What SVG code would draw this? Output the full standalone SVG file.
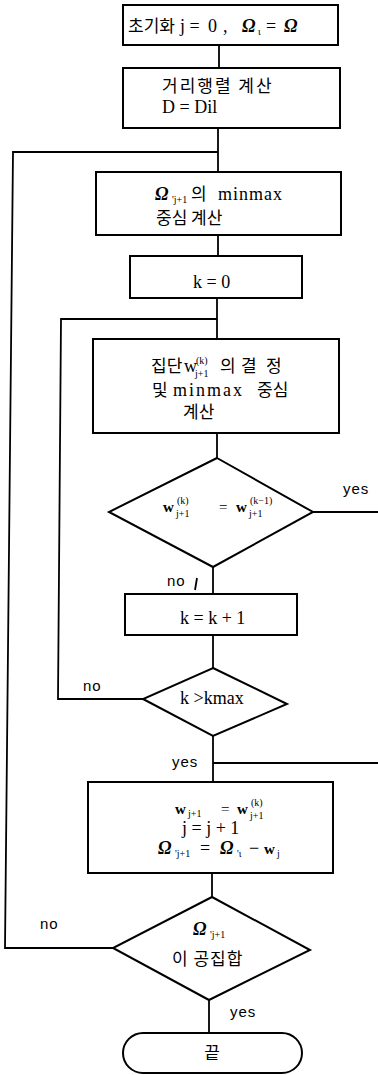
<svg xmlns="http://www.w3.org/2000/svg" width="378" height="1075" viewBox="0 0 378 1075">
  <style>
    .shape { fill: #fff; stroke: #000; stroke-width: 2; }
    .wire { fill: none; stroke: #000; stroke-width: 1.8; }
    text { font-family: "Liberation Serif", "Noto Sans CJK KR", serif; font-size: 18px; fill: #000; }
    .ko { font-family: "Noto Sans CJK KR", sans-serif; font-size: 17px; }
    .lbl { font-family: "Liberation Sans", "Noto Sans CJK KR", sans-serif; font-size: 15px; letter-spacing: 1px; }
    .c { text-anchor: middle; }
    .sub { font-size: 10px; }
    .sm { font-size: 15px; }
    .om { font-style: italic; font-weight: bold; }
  </style>
  <rect width="378" height="1075" fill="#fff"/>

  <!-- connectors -->
  <g id="connectors" class="wire">
    <line x1="219" y1="45" x2="219" y2="68"/>
    <line x1="218" y1="128" x2="218" y2="172"/>
    <polyline points="113,948 5,948 13,152 218,152"/>
    <line x1="218" y1="235" x2="218" y2="256"/>
    <line x1="217" y1="298" x2="217" y2="339"/>
    <polyline points="143,699 58,699 61,319 217,319"/>
    <line x1="217" y1="433" x2="217" y2="458"/>
    <line x1="313" y1="512" x2="378" y2="512"/>
    <line x1="213" y1="567" x2="213" y2="594"/>
    <line x1="197" y1="578" x2="195" y2="590"/>
    <line x1="213" y1="635" x2="213" y2="668"/>
    <line x1="213" y1="736" x2="213" y2="782"/>
    <line x1="213" y1="763" x2="378" y2="763"/>
    <line x1="212" y1="873" x2="212" y2="897"/>
    <line x1="209" y1="1000" x2="209" y2="1033"/>
  </g>

  <!-- initialisation -->
  <g id="init">
    <rect class="shape" x="123" y="5" width="215" height="40"/>
    <text y="32"><tspan class="ko" x="128" font-size="16">초기화</tspan><tspan x="180">j =</tspan><tspan x="208">0</tspan><tspan x="223">,</tspan><tspan class="om" x="242">Ω</tspan><tspan class="sub" x="258" dy="3">ι</tspan><tspan x="266" dy="-3">=</tspan><tspan class="om" x="284">Ω</tspan></text>
  </g>

  <!-- distance matrix -->
  <g id="dist">
    <rect class="shape" x="123" y="68" width="217" height="60"/>
    <text class="ko" x="162" y="92" letter-spacing="2">거리행렬 계산</text>
    <text x="162" y="113">D = Dil</text>
  </g>

  <!-- minmax centre of the remaining set -->
  <g id="centre">
    <rect class="shape" x="96" y="172" width="245" height="63"/>
    <text y="200"><tspan class="om" x="155">Ω</tspan><tspan class="sub" x="172" dy="3">'j+1</tspan><tspan class="ko" x="191" dy="-3">의</tspan><tspan x="218" letter-spacing="1">minmax</tspan></text>
    <text class="ko" x="156" y="224">중심 계산</text>
  </g>

  <!-- k = 0 -->
  <g id="k0">
    <rect class="shape" x="130" y="256" width="172" height="42"/>
    <text x="193" y="288">k = 0</text>
  </g>

  <!-- cluster decision -->
  <g id="cluster">
    <rect class="shape" x="93" y="339" width="246" height="94"/>
    <text y="372"><tspan class="ko" x="151" font-size="16">집단</tspan><tspan x="184">w</tspan><tspan class="sub" x="196" dy="-8">(k)</tspan><tspan class="sub" x="195" dy="13">j+1</tspan><tspan class="ko" x="220" dy="-5">의</tspan><tspan class="ko" x="241">결</tspan><tspan class="ko" x="266">정</tspan></text>
    <text y="396"><tspan class="ko" x="152">및</tspan><tspan x="173" letter-spacing="2">minmax</tspan><tspan class="ko" x="257" font-size="15">중심</tspan></text>
    <text class="ko" x="183" y="418">계산</text>
  </g>

  <!-- convergence test -->
  <g id="conv">
    <polygon class="shape" points="217,458 313,512 213,567 109,512"/>
    <text y="512" class="sm"><tspan x="163" font-weight="bold">w</tspan><tspan class="sub" x="177" dy="-8">(k)</tspan><tspan class="sub" x="176" dy="13">j+1</tspan><tspan x="219" dy="-5">=</tspan><tspan x="236" font-weight="bold">w</tspan><tspan class="sub" x="250" dy="-8">(k−1)</tspan><tspan class="sub" x="249" dy="13">j+1</tspan></text>
    <text x="343" y="494" class="lbl">yes</text>
    <text x="167" y="586" class="lbl">no</text>
  </g>

  <!-- k = k + 1 -->
  <g id="kinc">
    <rect class="shape" x="125" y="594" width="172" height="41"/>
    <text x="180" y="624">k = k + 1</text>
  </g>

  <!-- iteration limit -->
  <g id="kmax">
    <polygon class="shape" points="213,668 287,704 213,736 143,699"/>
    <text x="180" y="704">k &gt;kmax</text>
    <text x="83" y="691" class="lbl">no</text>
    <text x="172" y="767" class="lbl">yes</text>
  </g>

  <!-- update -->
  <g id="update">
    <rect class="shape" x="88" y="782" width="245" height="91"/>
    <text y="814" class="sm"><tspan x="175" font-weight="bold">w</tspan><tspan class="sub" x="188" dy="3">j+1</tspan><tspan x="221" dy="-3">=</tspan><tspan x="237" font-weight="bold">w</tspan><tspan class="sub" x="251" dy="-8">(k)</tspan><tspan class="sub" x="250" dy="13">j+1</tspan></text>
    <text x="182" y="834">j = j + 1</text>
    <text y="854"><tspan class="om" x="158">Ω</tspan><tspan class="sub" x="175" dy="3">'j+1</tspan><tspan x="200" dy="-3">=</tspan><tspan class="om" x="220">Ω</tspan><tspan class="sub" x="237" dy="3">'ι</tspan><tspan x="249" dy="-3">−</tspan><tspan x="264" class="sm" font-weight="bold">w</tspan><tspan class="sub" x="277" dy="3">j</tspan></text>
  </g>

  <!-- empty-set test -->
  <g id="empty">
    <polygon class="shape" points="212,897 310,950 209,1000 113,948"/>
    <text y="935"><tspan class="om" x="193">Ω</tspan><tspan class="sub" x="210" dy="3">'j+1</tspan></text>
    <text class="ko" x="172" y="965" letter-spacing="1">이 공집합</text>
    <text x="40" y="929" class="lbl">no</text>
    <text x="230" y="1017" class="lbl">yes</text>
  </g>

  <!-- end -->
  <g id="end">
    <rect class="shape" x="123" y="1033" width="179" height="40" rx="20" ry="20"/>
    <text class="ko c" x="212" y="1059">끝</text>
  </g>
</svg>
